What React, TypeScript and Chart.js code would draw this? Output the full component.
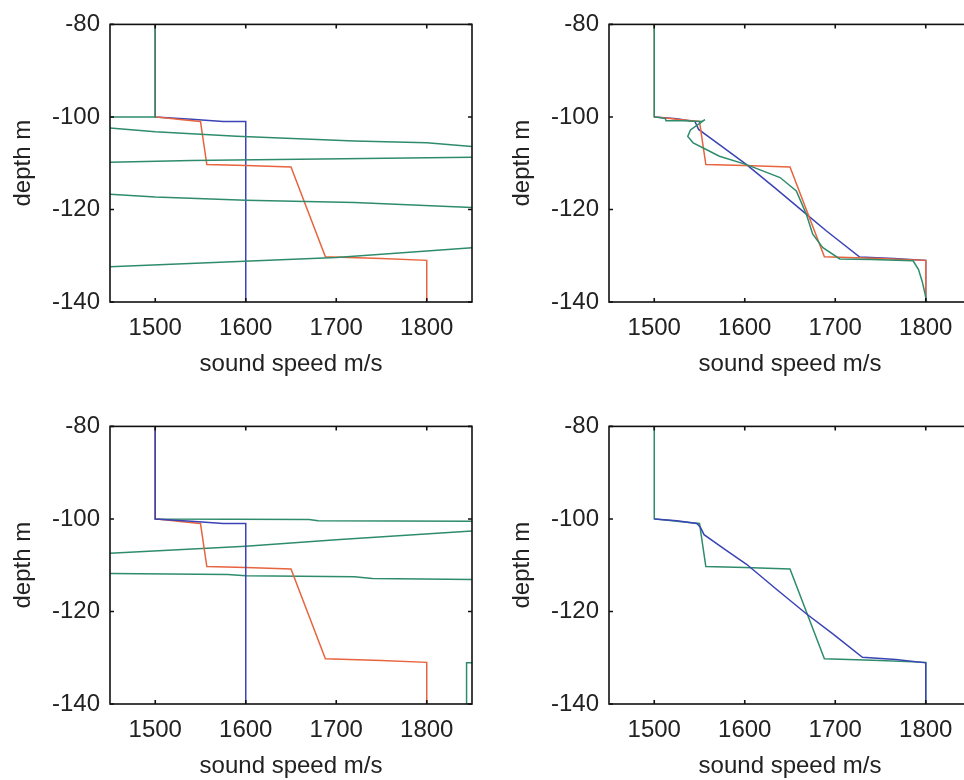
import React, { useEffect, useRef } from 'react';
import { Chart, registerables } from 'chart.js';

Chart.register(...registerables);

// ---- axis definitions ----
const X_MIN = 1450;
const X_MAX = 1850;
const Y_MIN = -140;
const Y_MAX = -80;
const X_TICKS = [1500, 1600, 1700, 1800];
const Y_TICKS = [-140, -120, -100, -80];
const X_TITLE = 'sound speed m/s';
const Y_TITLE = 'depth m';

// ---- true (layered) profile ----
const trueSpeed = [1500, 1500, 1515, 1530, 1550, 1557, 1600, 1650, 1688, 1750, 1800, 1800];
const trueDepth = [-80, -100, -100.3, -100.6, -101, -110.3, -110.5, -110.8, -130.2, -130.6, -131, -140];

// ---- starting (step) profile, panels 1 & 3 ----
const startSpeed = [1500, 1500, 1540, 1575, 1600, 1600];
const startDepth = [-80, -100, -100.5, -101, -101, -140];

// ---- panel 1: diverging estimate ----
const p1Speed = [1500, 1500, 1400, 1400, 1450, 1500, 1590, 1720, 1800, 1850, 1900, 1900, 1850, 1540, 1450, 1400, 1400, 1450, 1500, 1600, 1720, 1850, 1900, 1900, 1850, 1700, 1450, 1400];
const p1Depth = [-80, -100, -100, -102.4, -102.4, -103.2, -104.2, -105.2, -105.6, -106.4, -106.4, -108.7, -108.7, -109.4, -109.8, -109.8, -116.7, -116.7, -117.3, -118, -118.5, -119.6, -119.6, -128.3, -128.3, -130.4, -132.4, -132.4];

// ---- panel 2: smooth inversion + estimate ----
const p2BlueSpeed = [1500, 1525, 1545, 1549, 1575, 1602, 1635, 1668, 1690, 1727, 1765, 1800, 1800];
const p2BlueDepth = [-100, -100.4, -101, -102.7, -106.4, -110.3, -115.6, -121, -124.6, -130.3, -130.6, -131, -140];
const p2GreenSpeed = [1500, 1500, 1512, 1513, 1532, 1552, 1556, 1540, 1537, 1543, 1558, 1572, 1602, 1639, 1657, 1668, 1675, 1686, 1705, 1740, 1786, 1792, 1796, 1799, 1801];
const p2GreenDepth = [-80, -100, -100.3, -100.8, -100.8, -101, -100.6, -102.8, -104.2, -105.6, -107.1, -108.5, -110.3, -113.1, -116, -121, -125.3, -128.2, -130.7, -130.8, -131.1, -133, -135.5, -138, -140];

// ---- panel 3: diverging estimate ----
const p3Speed = [1500, 1500, 1670, 1680, 1850, 1900, 1900, 1850, 1700, 1600, 1450, 1400, 1400, 1450, 1580, 1600, 1720, 1740, 1850, 1900, 1900, 1844, 1844];
const p3Depth = [-80, -100, -100.1, -100.4, -100.5, -100.5, -102.6, -102.6, -104.5, -105.9, -107.4, -107.4, -111.8, -111.8, -112.0, -112.3, -112.5, -112.9, -113.1, -113.1, -131.1, -131.1, -140];

// ---- panel 4: smooth inversion ----
const p4BlueSpeed = [1500, 1525, 1547, 1551, 1555, 1578, 1602, 1635, 1668, 1697, 1730, 1767, 1800, 1800];
const p4BlueDepth = [-100, -100.4, -101, -101.8, -103.4, -106.6, -109.8, -115.2, -120.5, -124.8, -129.9, -130.4, -131.1, -140];

const GREEN = '#2e8c6c';
const BLUE = '#3a44b4';
const RED = '#e8643e';
const FONT = '"Liberation Sans", Arial, sans-serif';
const TEXT = '#222';

type Series = { x: number[]; y: number[]; color: string };

// listed top-most first
const panels: { left: number; top: number; series: Series[] }[] = [
  { left: 0, top: 0, series: [
    { x: p1Speed, y: p1Depth, color: GREEN },
    { x: trueSpeed, y: trueDepth, color: RED },
    { x: startSpeed, y: startDepth, color: BLUE },
  ] },
  { left: 499, top: 0, series: [
    { x: p2GreenSpeed, y: p2GreenDepth, color: GREEN },
    { x: trueSpeed, y: trueDepth, color: RED },
    { x: p2BlueSpeed, y: p2BlueDepth, color: BLUE },
  ] },
  { left: 0, top: 402, series: [
    { x: startSpeed, y: startDepth, color: BLUE },
    { x: trueSpeed, y: trueDepth, color: RED },
    { x: p3Speed, y: p3Depth, color: GREEN },
  ] },
  { left: 499, top: 402, series: [
    { x: p4BlueSpeed, y: p4BlueDepth, color: BLUE },
    { x: trueSpeed, y: trueDepth, color: GREEN },
  ] },
];

const boxPlugin = {
  id: 'boxTicks',
  afterDatasetsDraw(chart: any) {
    const { ctx, chartArea: a, scales } = chart;
    const xs = scales.x;
    const ys = scales.y;
    ctx.save();
    ctx.strokeStyle = '#111';
    ctx.lineWidth = 1.6;
    ctx.strokeRect(a.left, a.top, a.right - a.left, a.bottom - a.top);
    ctx.beginPath();
    xs.ticks.forEach((t: any) => {
      const p = xs.getPixelForValue(t.value);
      ctx.moveTo(p, a.bottom); ctx.lineTo(p, a.bottom - 4);
      ctx.moveTo(p, a.top); ctx.lineTo(p, a.top + 4);
    });
    ys.ticks.forEach((t: any) => {
      const p = ys.getPixelForValue(t.value);
      ctx.moveTo(a.left, p); ctx.lineTo(a.left + 4, p);
      ctx.moveTo(a.right, p); ctx.lineTo(a.right - 4, p);
    });
    ctx.stroke();
    ctx.restore();
  },
};

function Panel({ left, top, series }: { left: number; top: number; series: Series[] }) {
  const ref = useRef<HTMLCanvasElement>(null);
  useEffect(() => {
    if (!ref.current) return;
    const chart = new Chart(ref.current, {
      type: 'scatter',
      data: {
        datasets: series.map((s) => ({
          data: s.x.map((v, i) => ({ x: v, y: s.y[i] })),
          showLine: true,
          borderColor: s.color,
          backgroundColor: s.color,
          borderWidth: 1.5,
          pointRadius: 0,
          pointHoverRadius: 0,
          fill: false,
          tension: 0,
          clip: 0,
        })),
      },
      options: {
        animation: false,
        responsive: false,
        devicePixelRatio: 1,
        events: [],
        layout: { padding: { top: 22, right: 10, left: 0, bottom: 0 } },
        plugins: { legend: { display: false }, tooltip: { enabled: false } },
        scales: {
          x: {
            type: 'linear',
            position: 'bottom',
            min: X_MIN,
            max: X_MAX,
            afterBuildTicks: (s: any) => { s.ticks = X_TICKS.map((v) => ({ value: v })); },
            afterFit: (s: any) => { s.height = 88; },
            grid: { display: false, drawTicks: false },
            border: { display: false },
            ticks: {
              padding: 12,
              autoSkip: false,
              maxRotation: 0,
              color: TEXT,
              font: { family: FONT, size: 24 },
              callback: (v: any) => String(v),
            },
            title: {
              display: true,
              text: X_TITLE,
              color: TEXT,
              font: { family: FONT, size: 24 },
              padding: { top: 0, bottom: 11 },
            },
          },
          y: {
            type: 'linear',
            position: 'left',
            min: Y_MIN,
            max: Y_MAX,
            afterBuildTicks: (s: any) => { s.ticks = Y_TICKS.map((v) => ({ value: v })); },
            afterFit: (s: any) => { s.width = 110; },
            grid: { display: false, drawTicks: false },
            border: { display: false },
            ticks: {
              padding: 10,
              autoSkip: false,
              color: TEXT,
              font: { family: FONT, size: 24 },
              callback: (v: any) => String(v),
            },
            title: {
              display: true,
              text: Y_TITLE,
              color: TEXT,
              font: { family: FONT, size: 24 },
              padding: { top: 9, bottom: 0 },
            },
          },
        },
      } as any,
      plugins: [boxPlugin],
    });
    return () => chart.destroy();
  }, []);
  return (
    <canvas
      ref={ref}
      width={482}
      height={390}
      style={{ position: 'absolute', left, top, width: 482, height: 390 }}
    />
  );
}

export default function App() {
  return (
    <div
      style={{
        position: 'absolute',
        left: 0,
        top: 0,
        width: 964,
        height: 780,
        overflow: 'hidden',
        background: '#fff',
      }}
    >
      {panels.map((p, i) => (
        <Panel key={i} left={p.left} top={p.top} series={p.series} />
      ))}
    </div>
  );
}
